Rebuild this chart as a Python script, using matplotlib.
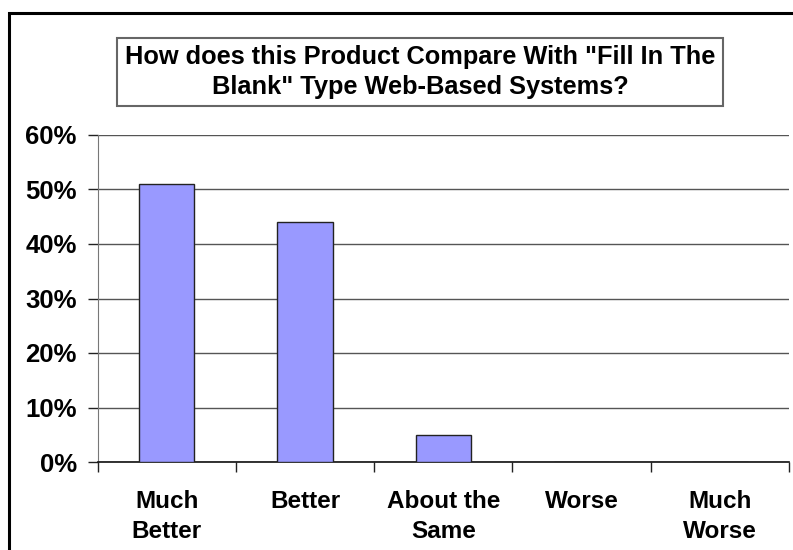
import matplotlib.pyplot as plt
import numpy as np
from matplotlib.patches import Rectangle
from matplotlib.ticker import FixedLocator, PercentFormatter

plt.rcParams['font.family'] = ['Liberation Sans', 'DejaVu Sans']
plt.rcParams['font.weight'] = 'bold'

# 설문 응답 비율
categories = ['Much\nBetter', 'Better', 'About the\nSame', 'Worse', 'Much\nWorse']
shares = [51, 44, 5, 0, 0]
yticks = [0, 10, 20, 30, 40, 50, 60]
title = 'How does this Product Compare With "Fill In The\nBlank" Type Web-Based Systems?'

fig = plt.figure(figsize=(7.93, 5.5), dpi=100)
ax = fig.add_axes([97.5 / 793, 1 - 462 / 550, (789 - 97.5) / 793, (462 - 135) / 550])

x = np.arange(len(categories))
ax.bar(x, shares, width=0.4, color='#9999FF', edgecolor='#222222', linewidth=1.0, zorder=3)

ax.set_xlim(-0.5, len(categories) - 0.5)
ax.set_ylim(0, 60)
ax.set_yticks(yticks)
ax.yaxis.set_major_formatter(PercentFormatter(decimals=0))
ax.grid(axis='y', color='#555555', linewidth=1.0, zorder=0)

# 카테고리 경계의 눈금
ax.set_xticks(x)
ax.set_xticklabels(categories, fontsize=17.5, fontweight='bold', linespacing=1.38)
ax.xaxis.set_minor_locator(FixedLocator(np.arange(len(categories) + 1) - 0.5))
ax.tick_params(axis='x', which='major', length=0, pad=20)
ax.tick_params(axis='x', which='minor', length=7, width=1.0, direction='out', color='#222222')
ax.tick_params(axis='y', length=7, width=1.0, direction='out', pad=8, labelsize=18.5, color='#222222')
for lab in ax.get_yticklabels():
    lab.set_fontweight('bold')

for side in ['top', 'right']:
    ax.spines[side].set_visible(False)
ax.spines['left'].set_color('#777777')
ax.spines['bottom'].set_color('#111111')
ax.spines['bottom'].set_linewidth(1.2)

# 제목 상자
fig.text(420 / 793, 1 - 72 / 550, title, ha='center', va='center', fontsize=18.3,
         fontweight='bold', linespacing=1.3,
         bbox=dict(boxstyle='square,pad=0.3', facecolor='white', edgecolor='#666666', linewidth=1.5))

# 차트 영역 테두리
fig.patches.append(Rectangle((9 / 793, -0.1), 1.2, 1 - 13 / 550 + 0.1, transform=fig.transFigure,
                             fill=False, edgecolor='black', linewidth=2.2))

fig.savefig('out.png', dpi=100)
